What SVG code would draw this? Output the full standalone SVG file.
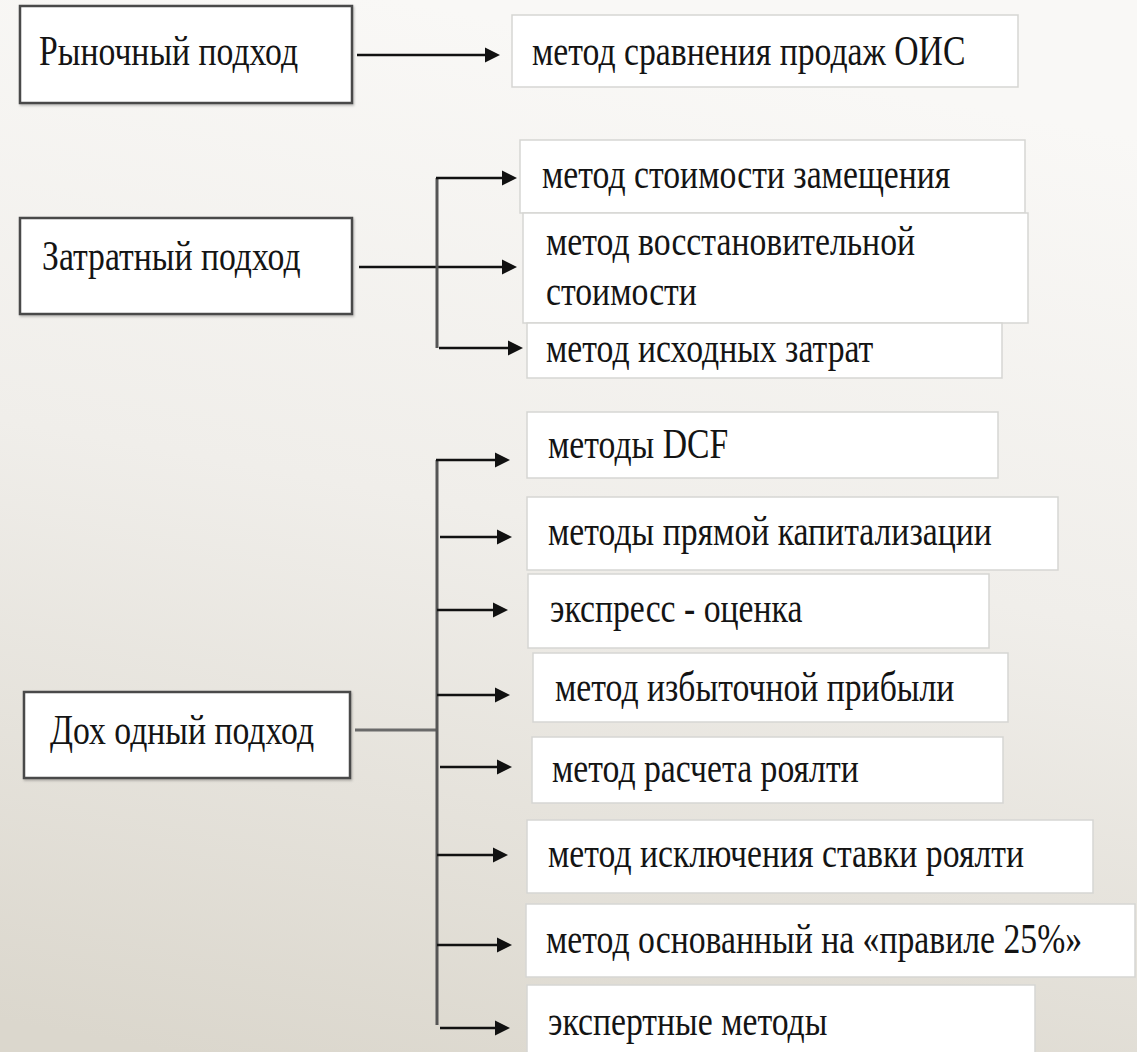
<svg xmlns="http://www.w3.org/2000/svg" width="1137" height="1052" viewBox="0 0 1137 1052">
  <defs>
    <linearGradient id="bg" x1="0.35" y1="0" x2="0.15" y2="1">
      <stop offset="0" stop-color="#f9f8f6"/>
      <stop offset="0.45" stop-color="#f0eeea"/>
      <stop offset="1" stop-color="#dbd7cd"/>
    </linearGradient>
    <marker id="ah" markerUnits="userSpaceOnUse" markerWidth="16" markerHeight="16" refX="3" refY="8" orient="auto">
      <path d="M0,0.5 L15,8 L0,15.5 Z" fill="#111"/>
    </marker>
    <filter id="sh" x="-5%" y="-5%" width="110%" height="120%">
      <feDropShadow dx="1" dy="1.5" stdDeviation="1" flood-color="#000" flood-opacity="0.25"/>
    </filter>
  </defs>
  <style>
    .lbl { font-family: "Liberation Serif", "Times New Roman", serif; font-size: 43px; fill: #141414; }
    .main { fill: #ffffff; stroke: #4a4a4a; stroke-width: 2.5; }
    .sub { fill: #ffffff; stroke: #d6d6d3; stroke-width: 1.5; }
    .arr { stroke: #111; stroke-width: 2.6; fill: none; marker-end: url(#ah); }
    .bus { stroke: #555; stroke-width: 3; fill: none; }
  </style>

  <rect x="0" y="0" width="1137" height="1052" fill="url(#bg)"/>

  <g id="connectors">
    <line class="arr" x1="357" y1="55" x2="488" y2="55"/>

    <line class="arr" x1="359" y1="267" x2="505" y2="267"/>
    <path class="bus" d="M437,178 V348"/>
    <line class="arr" x1="436" y1="178" x2="505" y2="178"/>
    <line class="arr" x1="439" y1="348" x2="511" y2="348"/>

    <line class="bus" x1="355" y1="730" x2="437" y2="730" style="stroke:#6a6a6a"/>
    <path class="bus" d="M437,460 V1025"/>
    <line class="arr" x1="436" y1="460" x2="498" y2="460"/>
    <line class="arr" x1="440" y1="537" x2="500" y2="537"/>
    <line class="arr" x1="437" y1="610" x2="496" y2="610"/>
    <line class="arr" x1="437" y1="695" x2="498" y2="695"/>
    <line class="arr" x1="440" y1="767" x2="500" y2="767"/>
    <line class="arr" x1="437" y1="855" x2="496" y2="855"/>
    <line class="arr" x1="437" y1="945" x2="500" y2="945"/>
    <line class="arr" x1="440" y1="1028" x2="498" y2="1028"/>
  </g>

  <g id="market">
    <rect class="main" x="20" y="6" width="332" height="97" filter="url(#sh)"/>
    <text class="lbl" transform="translate(39 65) scale(0.784 1)">Рыночный подход</text>
  </g>
  <g id="m-sales">
    <rect class="sub" x="512" y="15" width="506" height="72"/>
    <text class="lbl" transform="translate(532 65) scale(0.784 1)">метод сравнения продаж ОИС</text>
  </g>

  <g id="cost">
    <rect class="main" x="20" y="218" width="332" height="96" filter="url(#sh)"/>
    <text class="lbl" transform="translate(42 270) scale(0.784 1)">Затратный подход</text>
  </g>
  <g id="c-replace">
    <rect class="sub" x="520" y="140" width="505" height="73"/>
    <text class="lbl" transform="translate(542 188) scale(0.784 1)">метод стоимости замещения</text>
  </g>
  <g id="c-restore">
    <rect class="sub" x="523" y="213" width="505" height="110"/>
    <text class="lbl" transform="translate(546 255) scale(0.784 1)">метод восстановительной</text>
    <text class="lbl" transform="translate(546 305) scale(0.784 1)">стоимости</text>
  </g>
  <g id="c-initial">
    <rect class="sub" x="527" y="323" width="475" height="55"/>
    <text class="lbl" transform="translate(546 362) scale(0.784 1)">метод исходных затрат</text>
  </g>

  <g id="income">
    <rect class="main" x="24" y="692" width="326" height="86" filter="url(#sh)"/>
    <text class="lbl" transform="translate(50 744) scale(0.784 1)">Дох одный подход</text>
  </g>
  <g id="i-dcf">
    <rect class="sub" x="527" y="412" width="471" height="66"/>
    <text class="lbl" transform="translate(548 458) scale(0.784 1)">методы DCF</text>
  </g>
  <g id="i-cap">
    <rect class="sub" x="527" y="497" width="531" height="73"/>
    <text class="lbl" transform="translate(548 545) scale(0.784 1)">методы прямой капитализации</text>
  </g>
  <g id="i-express">
    <rect class="sub" x="528" y="574" width="461" height="74"/>
    <text class="lbl" transform="translate(550 622) scale(0.784 1)">экспресс - оценка</text>
  </g>
  <g id="i-excess">
    <rect class="sub" x="533" y="653" width="475" height="69"/>
    <text class="lbl" transform="translate(555 701) scale(0.784 1)">метод избыточной прибыли</text>
  </g>
  <g id="i-royalty">
    <rect class="sub" x="532" y="737" width="471" height="66"/>
    <text class="lbl" transform="translate(552 782) scale(0.784 1)">метод расчета роялти</text>
  </g>
  <g id="i-relief">
    <rect class="sub" x="527" y="820" width="566" height="73"/>
    <text class="lbl" transform="translate(548 867) scale(0.784 1)">метод исключения ставки роялти</text>
  </g>
  <g id="i-rule25">
    <rect class="sub" x="526" y="904" width="609" height="73"/>
    <text class="lbl" transform="translate(546 953) scale(0.784 1)">метод основанный на «правиле 25%»</text>
  </g>
  <g id="i-expert">
    <rect class="sub" x="527" y="985" width="508" height="72"/>
    <text class="lbl" transform="translate(548 1035) scale(0.784 1)">экспертные методы</text>
  </g>
</svg>
